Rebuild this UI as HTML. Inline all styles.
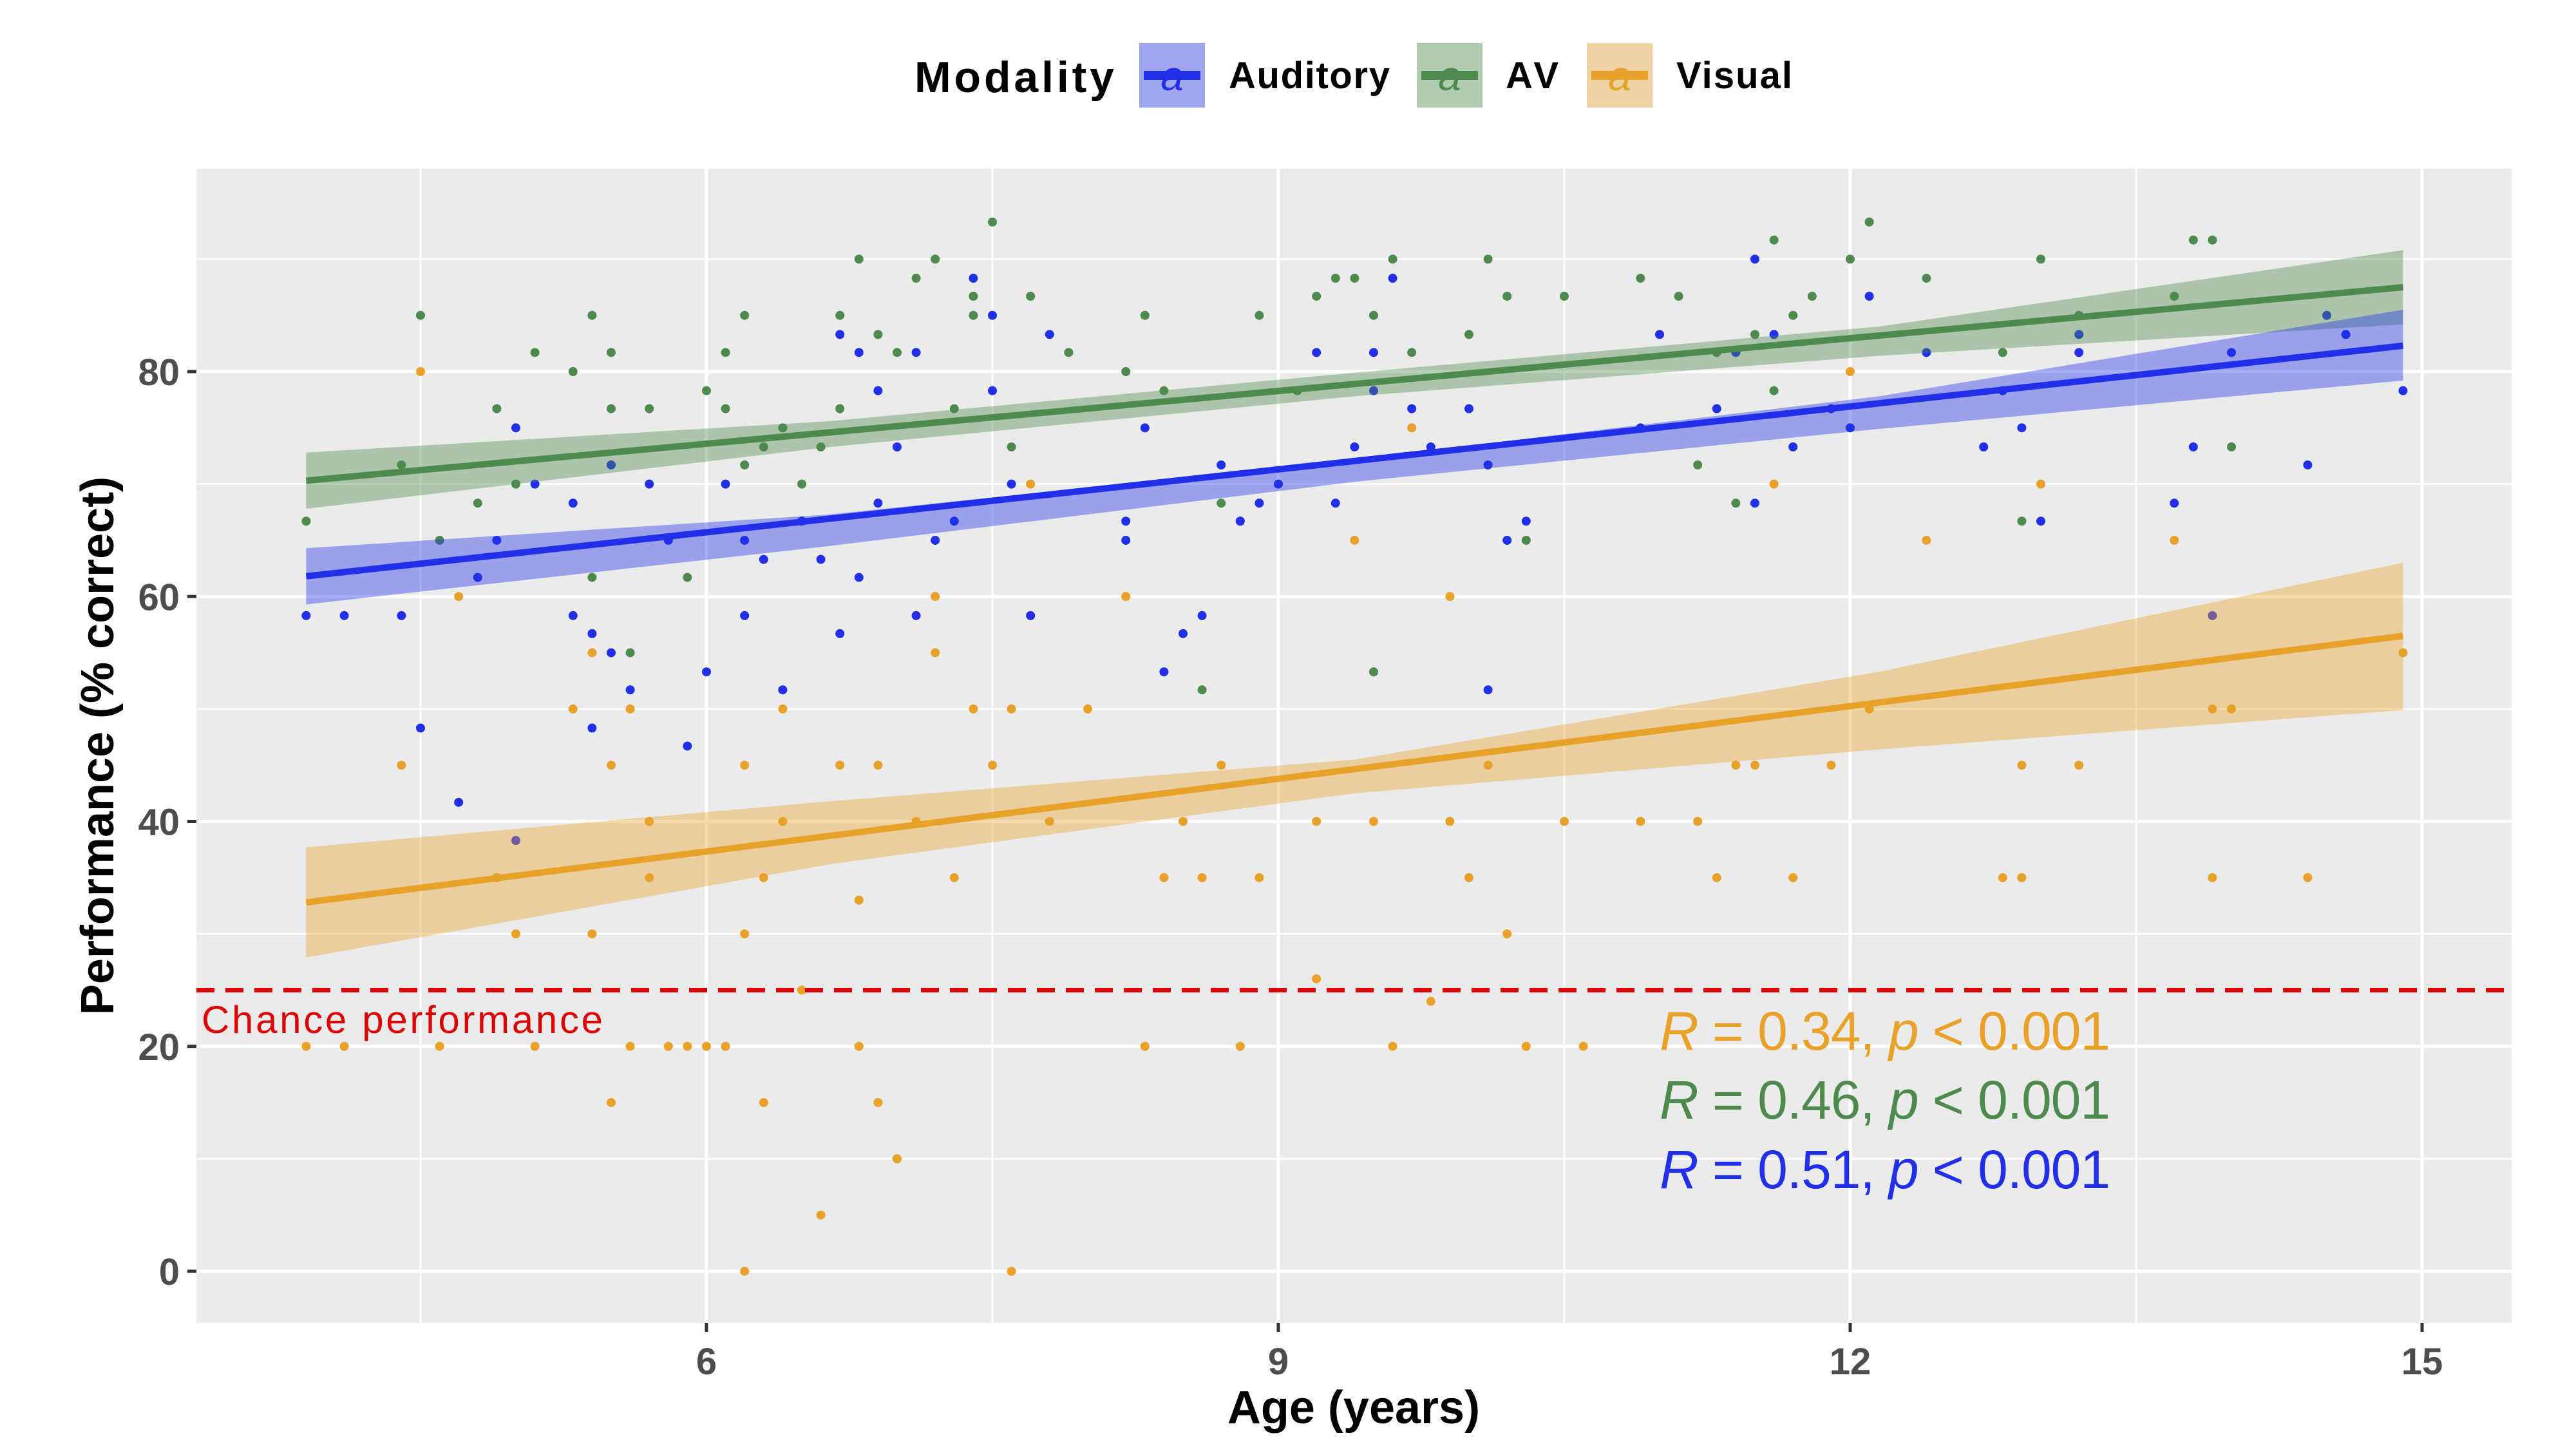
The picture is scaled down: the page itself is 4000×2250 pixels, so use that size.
<!DOCTYPE html>
<html><head><meta charset="utf-8"><style>
html,body{margin:0;padding:0;background:#fff;}
svg{display:block;font-family:"Liberation Sans",Arial,sans-serif;}
</style></head><body>
<svg id="chart" width="4000" height="2250" viewBox="0 0 4000 2250">
<g id="panel"></g>
</svg>
<script>
// ---- data ----
const xTicks = [6, 9, 12, 15];
const xMinor = [4.5, 7.5, 10.5, 13.5];
const yTicks = [0, 20, 40, 60, 80];
const yMinor = [10, 30, 50, 70, 90];
const seriesNames = ["Auditory", "AV", "Visual"];
const fitX = [3.9, 14.9];
const audFit = [61.8, 82.3];
const avFit = [70.3, 87.5];
const visFit = [32.8, 56.5];
const bandX = [3.9, 6.65, 9.4, 12.15, 14.9];
const audLo = [59.3, 64.5, 70.2, 74.9, 79.2];
const audHi = [64.3, 67.3, 72.2, 77.8, 85.5];
const avLo = [67.8, 73.3, 77.8, 81.4, 84.2];
const avHi = [72.8, 75.6, 79.9, 84.0, 90.8];
const visLo = [27.9, 36.2, 42.5, 46.4, 49.9];
const visHi = [37.7, 41.8, 45.5, 53.3, 63.0];
const chanceLevel = 25;
const audX = [3.9,4.1,4.4,4.5,4.7,4.8,4.9,5.0,5.0,5.1,5.3,5.3,5.4,5.4,5.5,5.5,5.6,5.7,5.8,5.9,6.0,6.1,6.2,6.2,6.3,6.4,6.5,6.6,6.7,6.7,6.8,6.8,6.9,6.9,7.0,7.1,7.1,7.2,7.3,7.4,7.5,7.5,7.6,7.7,7.8,8.2,8.2,8.3,8.4,8.5,8.6,8.7,8.8,8.9,9.0,9.2,9.3,9.4,9.5,9.5,9.6,9.7,9.8,10.0,10.1,10.1,10.2,10.3,10.9,11.0,11.3,11.4,11.5,11.5,11.6,11.7,11.9,12.0,12.1,12.4,12.7,12.8,12.9,13.0,13.2,13.2,13.7,13.8,13.9,14.0,14.4,14.5,14.6,14.9];
const audY = [58.3,58.3,58.3,48.3,41.7,61.7,65,75,38.3,70,58.3,68.3,56.7,48.3,55,71.7,51.7,70,65,46.7,53.3,70,65,58.3,63.3,51.7,66.7,63.3,56.7,83.3,61.7,81.7,68.3,78.3,73.3,58.3,81.7,65,66.7,88.3,78.3,85,70,58.3,83.3,66.7,65,75,53.3,56.7,58.3,71.7,66.7,68.3,70,81.7,68.3,73.3,81.7,78.3,88.3,76.7,73.3,76.7,51.7,71.7,65,66.7,75,83.3,76.7,81.7,90,68.3,83.3,73.3,76.7,75,86.7,81.7,73.3,78.3,75,66.7,83.3,81.7,68.3,73.3,58.3,81.7,71.7,85,83.3,78.3];
const avX = [3.9,4.4,4.5,4.6,4.8,4.9,5.0,5.1,5.3,5.4,5.4,5.5,5.5,5.6,5.7,5.9,6.0,6.1,6.1,6.2,6.2,6.3,6.4,6.5,6.6,6.7,6.7,6.8,6.9,7.0,7.1,7.2,7.3,7.4,7.4,7.5,7.6,7.7,7.9,8.2,8.3,8.4,8.6,8.7,8.8,8.9,9.1,9.2,9.3,9.4,9.5,9.5,9.6,9.7,10.0,10.1,10.2,10.3,10.5,10.9,11.1,11.2,11.3,11.4,11.5,11.6,11.6,11.7,11.8,12.0,12.1,12.4,12.8,12.9,13.0,13.2,13.7,13.8,13.9,14.0,14.6];
const avY = [66.7,71.7,85,65,68.3,76.7,70,81.7,80,85,61.7,76.7,81.7,55,76.7,61.7,78.3,81.7,76.7,85,71.7,73.3,75,70,73.3,85,76.7,90,83.3,81.7,88.3,90,76.7,86.7,85,93.3,73.3,86.7,81.7,80,85,78.3,51.7,68.3,66.7,85,78.3,86.7,88.3,88.3,53.3,85,90,81.7,83.3,90,86.7,65,86.7,88.3,86.7,71.7,81.7,68.3,83.3,91.7,78.3,85,86.7,90,93.3,88.3,81.7,66.7,90,85,86.7,91.7,91.7,73.3,83.3];
const visX = [3.9,4.1,4.4,4.5,4.6,4.7,4.9,5.0,5.1,5.3,5.4,5.4,5.5,5.5,5.6,5.6,5.7,5.7,5.8,5.9,6.0,6.1,6.2,6.2,6.2,6.3,6.3,6.4,6.4,6.5,6.6,6.7,6.8,6.8,6.9,6.9,7.0,7.0,7.1,7.2,7.2,7.3,7.4,7.5,7.6,7.6,7.7,7.8,8.0,8.2,8.3,8.4,8.5,8.6,8.7,8.8,8.9,9.2,9.2,9.4,9.5,9.6,9.7,9.8,9.9,9.9,10.0,10.1,10.2,10.3,10.5,10.6,10.9,11.2,11.3,11.4,11.5,11.6,11.7,11.9,12.0,12.1,12.4,12.8,12.9,12.9,13.0,13.2,13.7,13.9,13.9,14.0,14.4,14.9];
const visY = [20,20,45,80,20,60,35,30,20,50,55,30,15,45,50,20,40,35,20,20,20,20,0,30,45,15,35,50,40,25,5,45,20,33,45,15,10,10,40,55,60,35,50,45,0,50,70,40,50,60,20,35,40,35,45,20,35,40,26,65,40,20,75,24,60,40,35,45,30,20,40,20,40,40,35,45,45,70,35,45,80,50,65,35,45,35,70,45,65,35,50,50,35,55];

// ---- scales ----
const PL=305, PR=3900, PT=262, PB=2054;
const sx = v => 1097 + (v-6)*(3761-1097)/9;
const sy = v => 1974 - v*(1974-577)/80;
const NS="http://www.w3.org/2000/svg";
const svg=document.getElementById('chart');
function mk(tag, attrs, parent){const e=document.createElementNS(NS,tag);for(const k in attrs)e.setAttribute(k,attrs[k]);(parent||svg).appendChild(e);return e;}

const bg=mk('rect',{x:PL,y:PT,width:PR-PL,height:PB-PT,fill:'#ebebeb'});


xMinor.forEach(v=>{const l=mk('line',{x1:sx(v),x2:sx(v),y1:PT,y2:PB,stroke:'#fff','stroke-width':2.5});

});
yMinor.forEach(v=>{const l=mk('line',{x1:PL,x2:PR,y1:sy(v),y2:sy(v),stroke:'#fff','stroke-width':2.5});

});
xTicks.forEach(v=>{const l=mk('line',{x1:sx(v),x2:sx(v),y1:PT,y2:PB,stroke:'#fff','stroke-width':5});


const t=mk('line',{x1:sx(v),x2:sx(v),y1:PB,y2:PB+14,stroke:'#333','stroke-width':5});


const tx=mk('text',{x:sx(v),y:PB+80,'text-anchor':'middle','font-size':58,'font-weight':'bold',fill:'#4d4d4d'});tx.textContent=v;

});
yTicks.forEach(v=>{const l=mk('line',{x1:PL,x2:PR,y1:sy(v),y2:sy(v),stroke:'#fff','stroke-width':5});


const t=mk('line',{x1:PL-14,x2:PL,y1:sy(v),y2:sy(v),stroke:'#333','stroke-width':5});


const tx=mk('text',{x:PL-26,y:sy(v)+21,'text-anchor':'end','font-size':58,'font-weight':'bold',fill:'#4d4d4d'});tx.textContent=v;

});

const colors={Auditory:'#2130e8',AV:'#4e8a4e',Visual:'#e8a22a'};
const pts={Auditory:[audX,audY],AV:[avX,avY],Visual:[visX,visY]};
const fits={Auditory:audFit,AV:avFit,Visual:visFit};
const bands={Auditory:[audLo,audHi],AV:[avLo,avHi],Visual:[visLo,visHi]};
["Visual","AV","Auditory"].forEach(s=>{const [X,Y]=pts[s];X.forEach((x,i)=>{
const c=mk('circle',{cx:sx(x),cy:sy(Y[i]),r:7,fill:colors[s]});

});});
["Visual","AV","Auditory"].forEach(s=>{const [lo,hi]=bands[s];
let d='M'+bandX.map((x,i)=>sx(x)+','+sy(hi[i])).join('L')+'L'+bandX.slice().reverse().map((x,i)=>sx(x)+','+sy(lo[lo.length-1-i])).join('L')+'Z';
const p=mk('path',{d:d,fill:colors[s],'fill-opacity':0.4});


const f=fits[s];
const l=mk('line',{x1:sx(fitX[0]),y1:sy(f[0]),x2:sx(fitX[1]),y2:sy(f[1]),stroke:colors[s],'stroke-width':10});

});
const ch=mk('line',{x1:PL,x2:PR,y1:sy(chanceLevel),y2:sy(chanceLevel),stroke:'#dd0000','stroke-width':7,'stroke-dasharray':'28 17'});


</script>
<svg style="position:absolute;left:0;top:0" width="4000" height="2250">
<text x="313" y="1604" font-size="60" fill="#dd0000" textLength="623">Chance performance</text>
<text x="2577" y="1630" font-size="84" fill="#e8a22a" textLength="700"><tspan font-style="italic">R</tspan> = 0.34, <tspan font-style="italic">p</tspan> &lt; 0.001</text>
<text x="2577" y="1737" font-size="84" fill="#4e8a4e" textLength="700"><tspan font-style="italic">R</tspan> = 0.46, <tspan font-style="italic">p</tspan> &lt; 0.001</text>
<text x="2577" y="1845" font-size="84" fill="#2130e8" textLength="700"><tspan font-style="italic">R</tspan> = 0.51, <tspan font-style="italic">p</tspan> &lt; 0.001</text>
<text x="2102" y="2210" font-size="72" font-weight="bold" text-anchor="middle" fill="#000">Age (years)</text>
<text transform="translate(176,1158) rotate(-90)" font-size="72" font-weight="bold" text-anchor="middle" fill="#000">Performance (% correct)</text>
<g>
<text x="1420" y="143" font-size="68" font-weight="bold" fill="#000" textLength="310">Modality</text>
<g>
<rect x="1769" y="67" width="102" height="100" fill="#a0a6f0"/>
<line x1="1776" x2="1864" y1="117" y2="117" stroke="#2130e8" stroke-width="14"/>
<text x="1820" y="140" font-size="64" font-style="italic" text-anchor="middle" fill="#2130e8">a</text>
<text x="1908" y="137" font-size="58" font-weight="bold" fill="#000" textLength="250">Auditory</text></g>
<g>
<rect x="2200" y="67" width="102" height="100" fill="#b0ccb0"/>
<line x1="2207" x2="2295" y1="117" y2="117" stroke="#4e8a4e" stroke-width="14"/>
<text x="2251" y="140" font-size="64" font-style="italic" text-anchor="middle" fill="#4e8a4e">a</text>
<text x="2338" y="137" font-size="58" font-weight="bold" fill="#000" textLength="82">AV</text></g>
<g>
<rect x="2464" y="67" width="102" height="100" fill="#edd3a3"/>
<line x1="2471" x2="2559" y1="117" y2="117" stroke="#e8a22a" stroke-width="14"/>
<text x="2515" y="140" font-size="64" font-style="italic" text-anchor="middle" fill="#e8a22a">a</text>
<text x="2603" y="137" font-size="58" font-weight="bold" fill="#000" textLength="180">Visual</text></g>
</g>
</svg>
</body></html>
